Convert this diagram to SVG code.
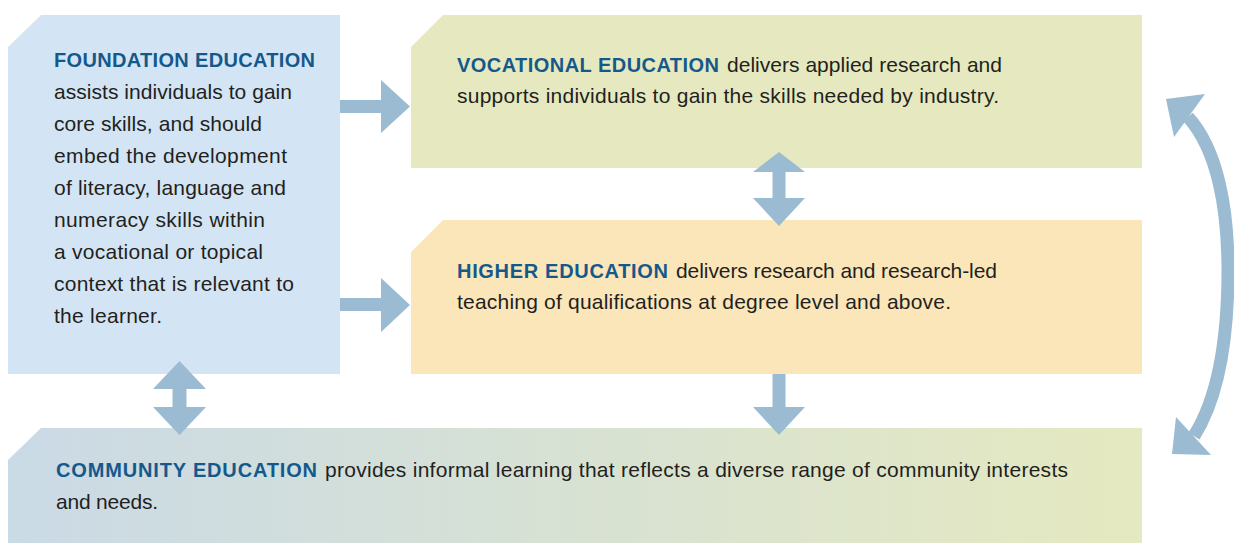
<svg xmlns="http://www.w3.org/2000/svg" width="1234" height="543" viewBox="0 0 1234 543">
<defs>
<linearGradient id="commGrad" x1="8" y1="0" x2="1142" y2="0" gradientUnits="userSpaceOnUse">
<stop offset="0" stop-color="#cadae6"/>
<stop offset="1" stop-color="#e5e9c0"/>
</linearGradient>
<style>
text{font-family:"Liberation Sans",Arial,sans-serif;font-size:21px;fill:#231f20}
.hd{font-weight:bold;font-size:20px;fill:#15598b}
.arrow{fill:#9abbd1}
</style>
</defs>
<rect width="1234" height="543" fill="#ffffff"/>
<g id="foundation">
<polygon points="41,15 340,15 340,374 8,374 8,47" fill="#d3e5f4"/>
<text class="hd" x="54" y="67" textLength="261" lengthAdjust="spacing">FOUNDATION EDUCATION</text>
<text x="54" y="99" textLength="238" lengthAdjust="spacing">assists individuals to gain</text>
<text x="54" y="131" textLength="208" lengthAdjust="spacing">core skills, and should</text>
<text x="54" y="163" textLength="233" lengthAdjust="spacing">embed the development</text>
<text x="54" y="195" textLength="232" lengthAdjust="spacing">of literacy, language and</text>
<text x="54" y="227" textLength="211" lengthAdjust="spacing">numeracy skills within</text>
<text x="54" y="259" textLength="209" lengthAdjust="spacing">a vocational or topical</text>
<text x="54" y="291" textLength="240" lengthAdjust="spacing">context that is relevant to</text>
<text x="54" y="323" textLength="108" lengthAdjust="spacing">the learner.</text>
</g>
<g id="vocational">
<polygon points="443,15 1142,15 1142,168 411,168 411,47" fill="#e6e9bf"/>
<text class="hd" x="457" y="72" textLength="262" lengthAdjust="spacing">VOCATIONAL EDUCATION</text>
<text x="727" y="72" textLength="275" lengthAdjust="spacing">delivers applied research and</text>
<text x="457" y="103" textLength="542" lengthAdjust="spacing">supports individuals to gain the skills needed by industry.</text>
</g>
<g id="higher">
<polygon points="443,220 1142,220 1142,374 411,374 411,252" fill="#fbe6ba"/>
<text class="hd" x="457" y="278" textLength="211" lengthAdjust="spacing">HIGHER EDUCATION</text>
<text x="676" y="278" textLength="321" lengthAdjust="spacing">delivers research and research-led</text>
<text x="457" y="309" textLength="494" lengthAdjust="spacing">teaching of qualifications at degree level and above.</text>
</g>
<g id="community">
<polygon points="41,428 1142,428 1142,543 8,543 8,460" fill="url(#commGrad)"/>
<text class="hd" x="56" y="477" textLength="261" lengthAdjust="spacing">COMMUNITY EDUCATION</text>
<text x="325" y="477" textLength="743" lengthAdjust="spacing">provides informal learning that reflects a diverse range of community interests</text>
<text x="56" y="509" textLength="102" lengthAdjust="spacing">and needs.</text>
</g>
<g id="connectors">
<polygon class="arrow" points="340,100 381,100 381,80 410,106.5 381,133 381,113 340,113"/>
<polygon class="arrow" points="340,298 381,298 381,278 410,305 381,332 381,311 340,311"/>
<polygon class="arrow" points="779,152 805,172 785.5,172 785.5,198 805,198 779,226 753,198 772.5,198 772.5,172 753,172"/>
<polygon class="arrow" points="772.5,374 785.5,374 785.5,407 805,407 779,435 753,407 772.5,407"/>
<polygon class="arrow" points="179.5,361 206,389 186.5,389 186.5,407 206,407 179.5,435 153,407 172.5,407 172.5,389 153,389"/>
<path d="M1188,117 C1218,150 1228,210 1228,270 C1228,330 1220,395 1194,436" fill="none" stroke="#9abbd1" stroke-width="13"/>
<polygon class="arrow" points="1166,99 1205,94 1174,137"/>
<polygon class="arrow" points="1172,454 1176,417 1211,455"/>
</g>
</svg>
